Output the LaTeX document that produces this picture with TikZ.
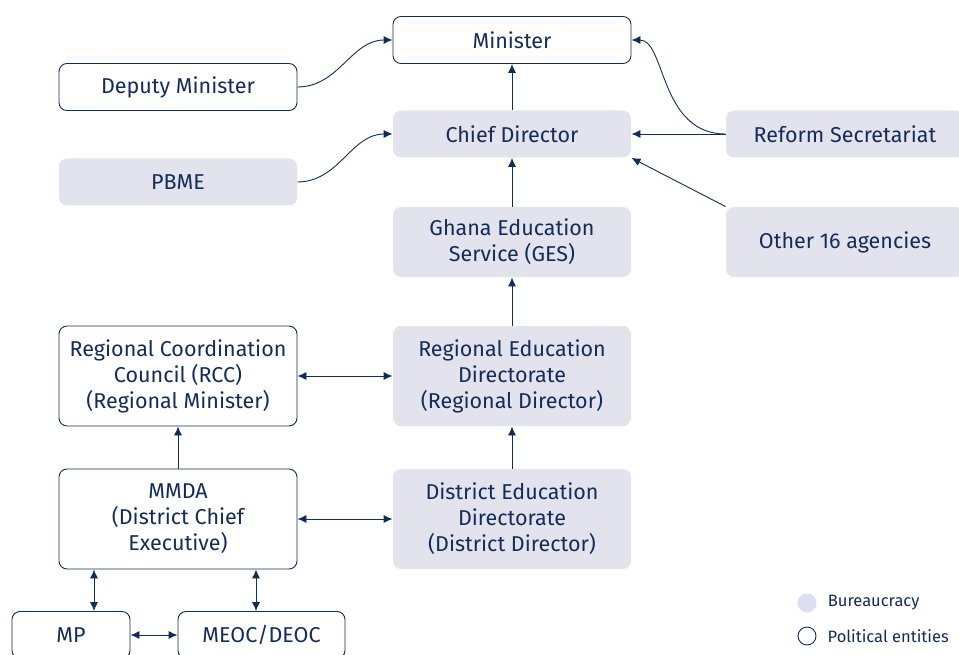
\documentclass[tikz,border=0pt]{standalone}
\usepackage{fontspec}
\setmainfont{Fira Sans}
\usepackage{tikz}
\usetikzlibrary{arrows.meta,positioning}

\definecolor{navy}{HTML}{132D58}
\definecolor{bureaufill}{HTML}{E3E3EE}
\definecolor{legendfill}{HTML}{DAE0F2}

\begin{document}
\begin{tikzpicture}[x=1pt,y=-1pt,
    office/.style={draw=navy, line width=0.9pt, fill=white, rounded corners=8pt,
        minimum width=238pt, minimum height=47pt, inner sep=0pt, align=center,
        text=navy, font=\fontsize{21.5}{26}\selectfont},
    bureau/.style={office, draw=none, fill=bureaufill},
    link/.style={draw=navy, line width=0.9pt, -{Latex[length=9pt,width=8pt]}},
    twoway/.style={link, {Latex[length=9pt,width=8pt]}-{Latex[length=9pt,width=8pt]}},
    legendtext/.style={text=navy, inner sep=0pt, font=\fontsize{16.5}{20}\selectfont}]
    \useasboundingbox (0,0) rectangle (959,655);

    % the ministry at the top
    \node[office] (minister) at (512,40) {Minister};
    \node[office] (deputy) at (178,87) {Deputy Minister};
    \node[bureau] (chief) at (512,134) {Chief Director};
    \node[bureau] (pbme) at (178,182) {PBME};
    \node[bureau] (reform) at (845,134) {Reform Secretariat};
    \node[bureau, minimum height=70pt] (others) at (845,242) {Other 16 agencies};
    \node[bureau, minimum height=70pt] (ges) at (512,242) {Ghana Education\\Service (GES)};

    % regional and district levels
    \node[bureau, minimum height=100pt] (red) at (512,376) {Regional Education\\Directorate\\(Regional Director)};
    \node[office, minimum height=100pt] (rcc) at (178,376) {Regional Coordination\\Council (RCC)\\(Regional Minister)};
    \node[bureau, minimum height=100pt] (ded) at (512,519) {District Education\\Directorate\\(District Director)};
    \node[office, minimum height=100pt] (mmda) at (178,519) {MMDA\\(District Chief\\Executive)};
    \node[office, minimum width=118pt] (mp) at (71,635) {MP};
    \node[office, minimum width=167pt] (meoc) at (261.5,635) {MEOC/DEOC};

    % the arrows
    \draw[link] (deputy.east) to[out=0,in=180] (minister.west);
    \draw[link] (pbme.east) to[out=0,in=180] (chief.west);
    \draw[link] (chief) -- (minister);
    \draw[link] (ges) -- (chief);
    \draw[link] (red) -- (ges);
    \draw[link] (ded) -- (red);
    \draw[link] (mmda) -- (rcc);
    \draw[link] (reform) -- (chief);
    \draw[link] (reform.west) .. controls +(-66,0) and +(34,0) .. (minister.east);
    \draw[link] (others.north west) -- (chief.south east);
    \draw[twoway] (rcc) -- (red);
    \draw[twoway] (mmda) -- (ded);
    \draw[twoway] ([xshift=-84pt]mmda.south) -- ([xshift=-84pt]mmda.south |- mp.north);
    \draw[twoway] ([xshift=78pt]mmda.south) -- ([xshift=78pt]mmda.south |- meoc.north);
    \draw[twoway] (mp) -- (meoc);

    % legend
    \node[circle, fill=legendfill, minimum size=19pt, inner sep=0pt] (bdot) at (807,603) {};
    \node[legendtext, right=11pt of bdot] (blabel) {Bureaucracy};
    \node[circle, draw=navy, line width=0.9pt, minimum size=18pt, inner sep=0pt] (pdot) at (807,636) {};
    \node[legendtext, right=11pt of pdot] (plabel) {Political entities};
\end{tikzpicture}
\end{document}
